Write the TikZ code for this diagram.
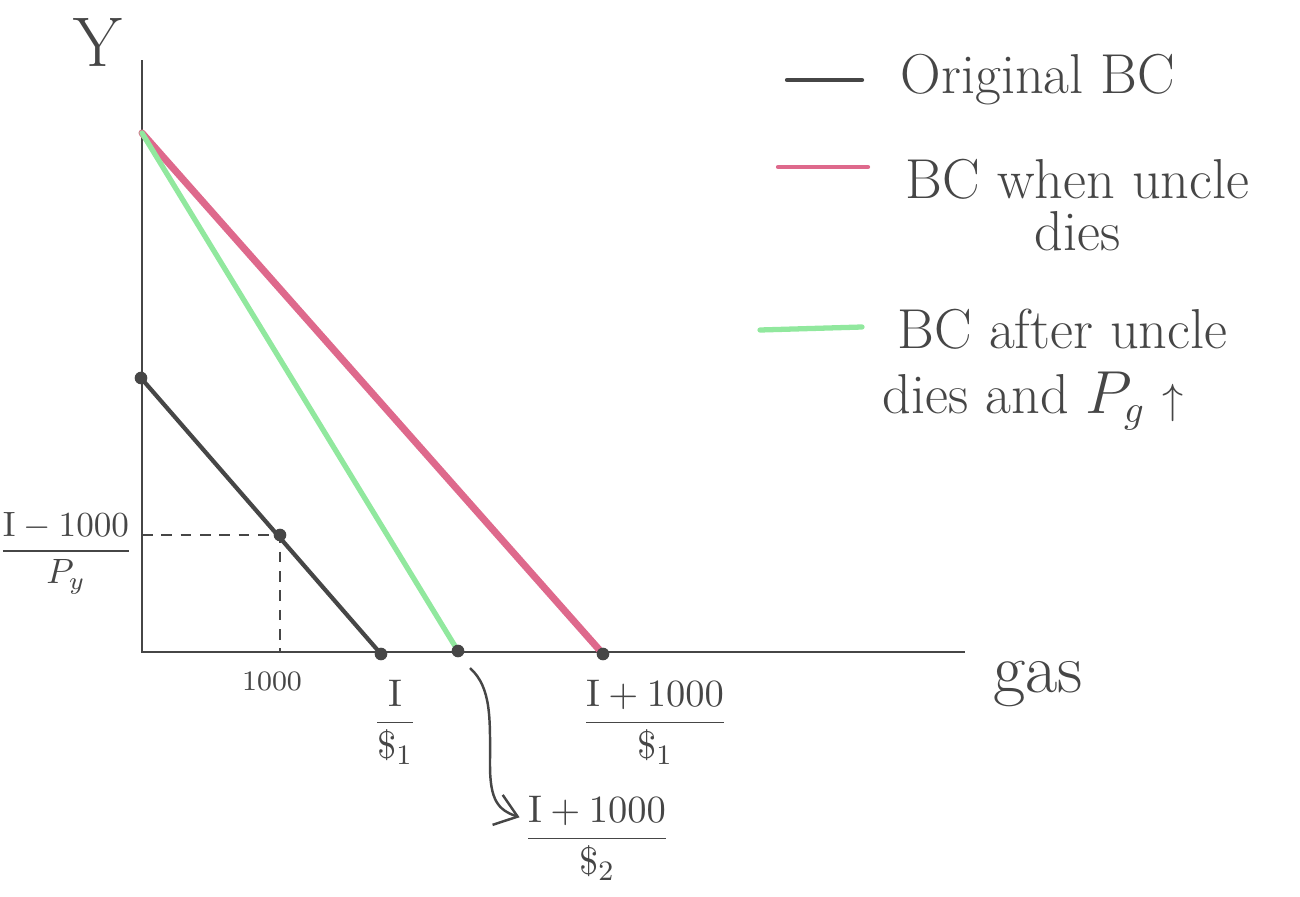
\documentclass[tikz,border=0pt]{standalone}
\usepackage{amsmath}
\usepackage{amssymb}
\usepackage{tikz}
\usetikzlibrary{positioning}
\usetikzlibrary{arrows.meta}
\definecolor{pencil}{RGB}{70,70,70}
\definecolor{bcred}{RGB}{222,105,140}
\definecolor{bcgreen}{RGB}{145,232,158}
\tikzset{
axis_line/.style={draw=pencil, line width=0.6pt},
axis_label/.style={inner sep=0pt, text=pencil, font=\fontsize{20}{22}\selectfont},
bc_black/.style={draw=pencil, line width=1.2pt, line cap=round},
bc_red/.style={draw=bcred, line width=2pt, line cap=round},
bc_green/.style={draw=bcgreen, line width=1.5pt, line cap=round},
bc_dot/.style={circle, fill=pencil, inner sep=0pt, minimum size=3.6pt},
guide/.style={draw=pencil, line width=0.5pt, dash pattern=on 3pt off 2.5pt},
tick_label/.style={inner sep=1pt, text=pencil, font=\fontsize{8}{9}\selectfont},
frac_label/.style={inner sep=1pt, text=pencil, font=\fontsize{11}{12}\selectfont},
legend_text/.style={inner sep=0pt, text=pencil, font=\fontsize{16}{15}\selectfont}
}

\begin{document}
\begin{tikzpicture}[x=0.01cm, y=-0.01cm]
    \useasboundingbox (0,0) rectangle (1300,897);
    % axes
    \coordinate (origin) at (142,652);
    \coordinate (y_top) at (142,60);
    \coordinate (x_end) at (965,652);
    \draw[axis_line] (y_top) -- (origin) -- (x_end);
    \node[axis_label] (y_lab) at (98,42) {Y};
    \node[axis_label] (gas_lab) at (1038,684) {gas};
    % budget constraints
    \coordinate (rich_y) at (142,133);
    \coordinate (orig_y) at (141,378);
    \coordinate (mid_pt) at (280,535);
    \coordinate (orig_x) at (381,654);
    \coordinate (green_x) at (458,651);
    \coordinate (red_x) at (603,654);
    \draw[guide] (origin |- mid_pt) -- (mid_pt) -- (mid_pt |- origin);
    \draw[bc_red] (rich_y) -- (red_x);
    \draw[bc_green] (rich_y) -- (green_x);
    \draw[bc_black] (orig_y) -- (orig_x);
    \node[bc_dot] (orig_y_dot) at (orig_y) {};
    \node[bc_dot] (mid_dot) at (mid_pt) {};
    \node[bc_dot] (orig_x_dot) at (orig_x) {};
    \node[bc_dot] (green_x_dot) at (green_x) {};
    \node[bc_dot] (red_x_dot) at (red_x) {};
    % axis labels
    \node[tick_label] (k_lab) at (272,681) {1000};
    \node[frac_label, font=\fontsize{10}{11}\selectfont] (py_lab) at (66,553) {$\dfrac{\mathrm{I}-1000}{P_y}$};
    \node[frac_label] (frac_orig) at (395,722) {$\dfrac{\mathrm{I}}{\$_1}$};
    \node[frac_label] (frac_red) at (655,722) {$\dfrac{\mathrm{I}+1000}{\$_1}$};
    \node[frac_label] (frac_green) at (597,838) {$\dfrac{\mathrm{I}+1000}{\$_2}$};
    \coordinate (hook_start) at (470,668);
    \draw[draw=pencil, line width=0.7pt, -{Straight Barb[length=6pt, width=9pt]}] (hook_start) .. controls (492,688) and (490,720) .. (490,765) .. controls (490,800) and (498,810) .. (frac_green.165);
    % legend
    \coordinate (leg_black_a) at (787,80);
    \coordinate (leg_black_b) at (862,80);
    \draw[bc_black] (leg_black_a) -- (leg_black_b);
    \node[legend_text, right=0.38cm of leg_black_b] (leg_black_txt) {Original BC};
    \coordinate (leg_red_a) at (778,167);
    \coordinate (leg_red_b) at (868,167);
    \draw[bc_red, line width=1.2pt] (leg_red_a) -- (leg_red_b);
    \node[legend_text, align=center, anchor=north west] (leg_red_txt) at (905,158) {BC when uncle\\dies};
    \coordinate (leg_green_a) at (760,330);
    \coordinate (leg_green_b) at (862,327);
    \draw[bc_green] (leg_green_a) -- (leg_green_b);
    \node[legend_text, font=\fontsize{16}{18.5}\selectfont, align=left, anchor=north west] (leg_green_txt) at (882,308) {\hspace{0.15cm}BC after uncle\\dies and $P_g$ {\fontsize{12}{12}\selectfont$\uparrow$}};
\end{tikzpicture}
\end{document}
